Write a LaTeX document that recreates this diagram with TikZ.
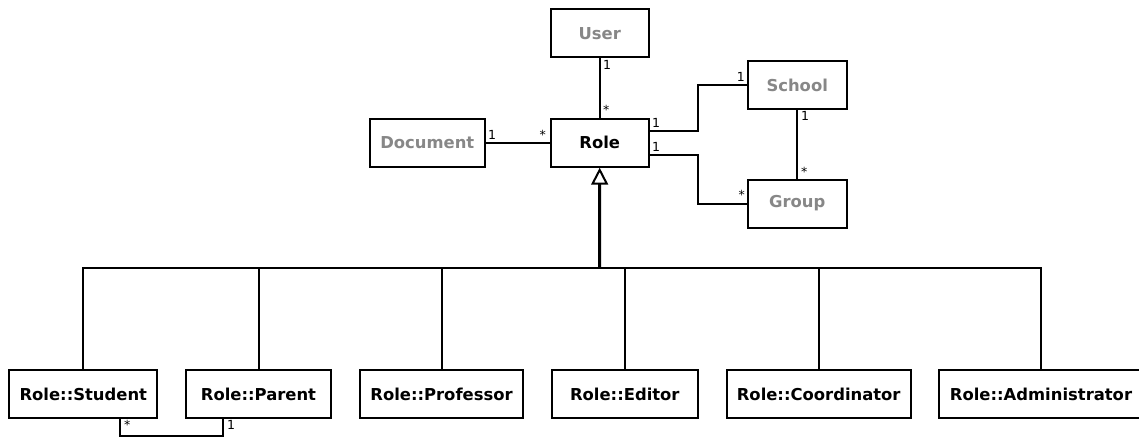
\documentclass[tikz,border=0pt]{standalone}
\usepackage{fontspec}
\setmainfont{DejaVu Sans}
\usetikzlibrary{arrows.meta}
\definecolor{ghost}{HTML}{878787}
\begin{document}
\begin{tikzpicture}[x=1pt,y=-1pt,
  cls/.style={draw=black, line width=2pt, fill=white, minimum height=48pt,
    inner sep=0pt, font=\fontsize{16.4}{19}\selectfont\bfseries},
  ext/.style={cls, text=ghost},
  wire/.style={line width=2pt, black},
  mult/.style={font=\fontsize{12.5}{14}\selectfont, inner sep=0pt}
]
\useasboundingbox (0,0) rectangle (1139,437);
\clip (0,0) rectangle (1139,437);

% classes of the upper part
\node[ext, minimum width=98pt]  (user)  at (599.7,33.3)  {User};
\node[cls, minimum width=98pt]  (role)  at (599.7,142.7) {Role};
\node[ext, minimum width=114.7pt] (doc) at (427.3,142.7) {Document};
\node[ext, minimum width=99pt]  (school) at (797.2,85)   {School};
\node[ext, minimum width=99pt]  (group)  at (797.2,203.5) {Group};

% role subclasses
\node[cls, minimum width=148pt]   (student) at (83.3,394.2)  {Role::Student};
\node[cls, minimum width=145pt]   (parent)  at (258.5,394.2) {Role::Parent};
\node[cls, minimum width=163pt]   (prof)    at (441.5,394.2) {Role::Professor};
\node[cls, minimum width=145.7pt] (editor)  at (624.8,394.2) {Role::Editor};
\node[cls, minimum width=184pt]   (coord)   at (818.7,394.2) {Role::Coordinator};
\node[cls, minimum width=203.4pt] (admin)   at (1041,394.2)  {Role::Administrator};

% associations
\draw[wire] (user) -- (role);
\node[mult, anchor=north west] (m1) at (603,60) {1};
\node[mult, anchor=south west] (m2) at (603,115) {*};

\draw[wire] (doc) -- (role);
\node[mult, anchor=south west] (m3) at (488,140) {1};
\node[mult, anchor=south east] (m4) at (546,140) {*};

\coordinate (rs) at (698.3,130.7);
\draw[wire] (role.east |- rs) -- (rs) |- (school.west);
\node[mult, anchor=south west] (m5) at (652,128) {1};
\node[mult, anchor=south east] (m6) at (745,82) {1};

\coordinate (rg) at (698.3,155);
\draw[wire] (role.east |- rg) -- (rg) |- (group.west);
\node[mult, anchor=south west] (m7) at (652,152) {1};
\node[mult, anchor=south east] (m8) at (745,200) {*};

\draw[wire] (school) -- (group);
\node[mult, anchor=north west] (m9) at (801,111) {1};
\node[mult, anchor=south west] (m10) at (801,177) {*};

\coordinate (sp) at (120,436);
\draw[wire] (sp |- student.south) -- (sp) -| (222.7,418.3);
\node[mult, anchor=north west] (m11) at (124,420) {*};
\node[mult, anchor=north west] (m12) at (227,420) {1};

% generalisation towards Role
\coordinate (hub) at (599.5,268.3);
\draw[line width=3pt, -{Triangle[open, length=17pt, width=17pt, line width=2pt]}]
  (hub) -- (role.south);
\foreach \sub in {student,parent,prof,editor,coord,admin}
  \draw[wire] (\sub.north) |- (hub);
\end{tikzpicture}
\end{document}
